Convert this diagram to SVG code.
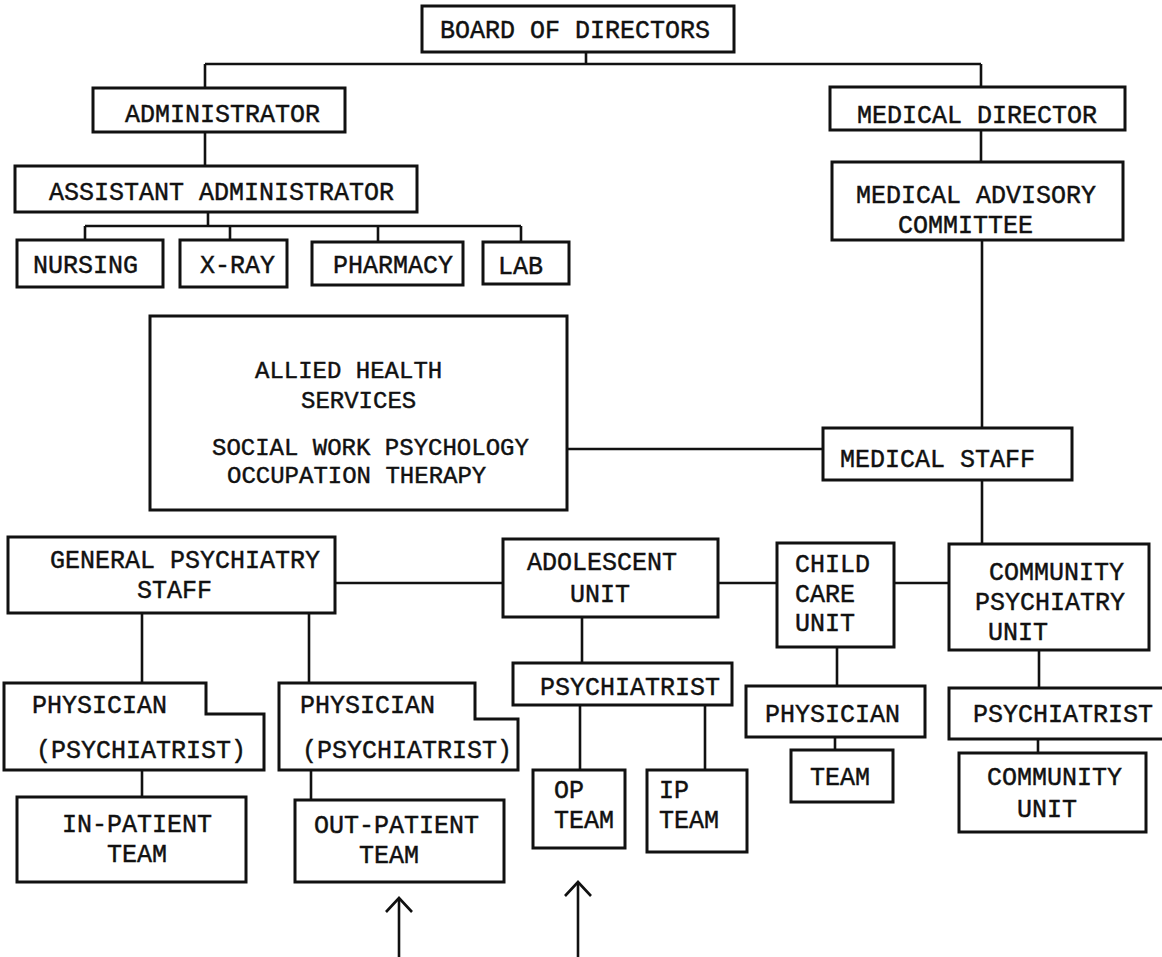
<svg xmlns="http://www.w3.org/2000/svg" width="1162" height="957" viewBox="0 0 1162 957">
<style>
.box{fill:#fff;stroke:#111;stroke-width:3}
.ln{fill:none;stroke:#111;stroke-width:2.6}
text{font-family:"Liberation Mono","DejaVu Sans Mono",monospace;font-size:25px;fill:#111;stroke:#111;stroke-width:0.45}
.sm{font-size:24px}
</style>
<defs>
<marker id="chev" viewBox="-17 -16 20 32" refX="0" refY="0" markerWidth="20" markerHeight="32" markerUnits="userSpaceOnUse" orient="auto">
<path d="M-14,-13 L0,0 L-14,13" fill="none" stroke="#111" stroke-width="2.6"/>
</marker>
</defs>
<rect width="1162" height="957" fill="#fff"/>
<g id="connectors">
<path class="ln" d="M586,52 V64 M205,64 H981 M205,64 V88 M981,64 V87"/>
<path class="ln" d="M205,132 V166"/>
<path class="ln" d="M208,212 V226 M85,226 H521 M85,226 V240 M230,226 V240 M378,226 V242 M521,226 V242"/>
<path class="ln" d="M981,130 V162 M982,240 V428 M982,480 V544"/>
<path class="ln" d="M567,449 H823"/>
<path class="ln" d="M335,583 H503 M718,583 H777 M894,583 H949"/>
<path class="ln" d="M142,613 V683 M309,613 V683 M142,770 V797 M311,770 V800"/>
<path class="ln" d="M582,617 V663 M580,705 V770 M705,705 V770"/>
<path class="ln" d="M837,647 V686 M835,737 V750"/>
<path class="ln" d="M1039,650 V688 M1038,739 V753"/>
<path class="ln" d="M399,957 V898" marker-end="url(#chev)"/>
<path class="ln" d="M578,957 V882" marker-end="url(#chev)"/>
</g>
<g id="board"><rect class="box" x="422" y="6" width="312" height="46"/><text x="440" y="38">BOARD OF DIRECTORS</text></g>
<g id="administrator"><rect class="box" x="93" y="88" width="252" height="44"/><text x="125" y="122">ADMINISTRATOR</text></g>
<g id="assistant-administrator"><rect class="box" x="15" y="166" width="402" height="46"/><text x="49" y="200">ASSISTANT ADMINISTRATOR</text></g>
<g id="nursing"><rect class="box" x="17" y="240" width="146" height="47"/><text x="33" y="273">NURSING</text></g>
<g id="xray"><rect class="box" x="180" y="240" width="107" height="47"/><text x="200" y="273">X-RAY</text></g>
<g id="pharmacy"><rect class="box" x="312" y="242" width="151" height="43"/><text x="333" y="273">PHARMACY</text></g>
<g id="lab"><rect class="box" x="483" y="242" width="86" height="42"/><text x="498" y="274">LAB</text></g>
<g id="medical-director"><rect class="box" x="830" y="87" width="295" height="43"/><text x="857" y="123">MEDICAL DIRECTOR</text></g>
<g id="medical-advisory"><rect class="box" x="832" y="162" width="291" height="78"/><text x="856" y="203">MEDICAL ADVISORY</text><text x="898" y="233">COMMITTEE</text></g>
<g id="allied-health"><rect class="box" x="150" y="316" width="417" height="194"/><text class="sm" x="255" y="378">ALLIED HEALTH</text><text class="sm" x="301" y="408">SERVICES</text><text class="sm" x="212" y="455">SOCIAL WORK PSYCHOLOGY</text><text class="sm" x="227" y="483">OCCUPATION THERAPY</text></g>
<g id="medical-staff"><rect class="box" x="823" y="428" width="249" height="52"/><text x="840" y="467">MEDICAL STAFF</text></g>
<g id="general-psychiatry"><rect class="box" x="8" y="537" width="327" height="76"/><text x="50" y="568">GENERAL PSYCHIATRY</text><text x="137" y="598">STAFF</text></g>
<g id="adolescent"><rect class="box" x="503" y="539" width="215" height="78"/><text x="527" y="570">ADOLESCENT</text><text x="570" y="602">UNIT</text></g>
<g id="child-care"><rect class="box" x="777" y="543" width="117" height="104"/><text x="795" y="572">CHILD</text><text x="795" y="602">CARE</text><text x="795" y="631">UNIT</text></g>
<g id="community-psychiatry"><rect class="box" x="949" y="544" width="200" height="106"/><text x="989" y="580">COMMUNITY</text><text x="975" y="610">PSYCHIATRY</text><text x="988" y="640">UNIT</text></g>
<g id="physician-1"><path class="box" d="M4,683 H206 V714 H264 V770 H4 Z"/><text x="32" y="713">PHYSICIAN</text><text x="36" y="758">(PSYCHIATRIST)</text></g>
<g id="in-patient"><rect class="box" x="17" y="797" width="229" height="85"/><text x="62" y="832">IN-PATIENT</text><text x="107" y="862">TEAM</text></g>
<g id="physician-2"><path class="box" d="M279,683 H475 V719 H518 V770 H279 Z"/><text x="300" y="713">PHYSICIAN</text><text x="302" y="758">(PSYCHIATRIST)</text></g>
<g id="out-patient"><rect class="box" x="295" y="800" width="209" height="82"/><text x="314" y="833">OUT-PATIENT</text><text x="359" y="863">TEAM</text></g>
<g id="adolescent-psychiatrist"><rect class="box" x="513" y="663" width="219" height="42"/><text x="540" y="695">PSYCHIATRIST</text></g>
<g id="op-team"><rect class="box" x="533" y="770" width="92" height="78"/><text x="554" y="798">OP</text><text x="554" y="828">TEAM</text></g>
<g id="ip-team"><rect class="box" x="647" y="770" width="100" height="82"/><text x="659" y="798">IP</text><text x="659" y="828">TEAM</text></g>
<g id="child-physician"><rect class="box" x="746" y="686" width="179" height="51"/><text x="765" y="722">PHYSICIAN</text></g>
<g id="child-team"><rect class="box" x="791" y="750" width="102" height="52"/><text x="810" y="785">TEAM</text></g>
<g id="community-psychiatrist"><rect class="box" x="949" y="688" width="230" height="51"/><text x="973" y="722">PSYCHIATRIST</text></g>
<g id="community-unit"><rect class="box" x="959" y="753" width="187" height="79"/><text x="987" y="785">COMMUNITY</text><text x="1017" y="817">UNIT</text></g>
</svg>
